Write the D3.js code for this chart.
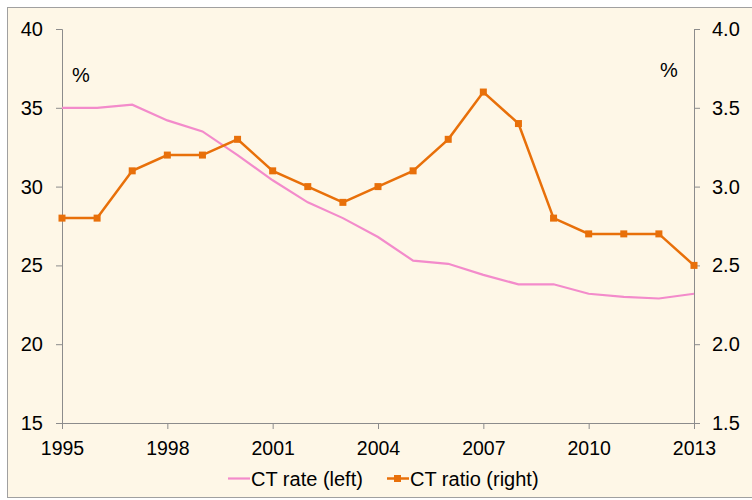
<!DOCTYPE html>
<html><head><meta charset="utf-8">
<script src="https://cdn.jsdelivr.net/npm/d3@7"></script>
<style>
html,body{margin:0;padding:0;background:#fff;}
svg{display:block;font-family:"Liberation Sans",Arial,sans-serif;}
</style></head>
<body>
<script>
const years = [1995,1996,1997,1998,1999,2000,2001,2002,2003,2004,2005,2006,2007,2008,2009,2010,2011,2012,2013];
const ctRate = [35,35,35.2,34.2,33.5,32,30.4,29,28,26.8,25.3,25.1,24.4,23.8,23.8,23.2,23.0,22.9,23.2];
const ctRatio = [2.8,2.8,3.1,3.2,3.2,3.3,3.1,3.0,2.9,3.0,3.1,3.3,3.6,3.4,2.8,2.7,2.7,2.7,2.5];
const xTicks = [1995,1998,2001,2004,2007,2010,2013];
const leftTicks = [15,20,25,30,35,40];
const rightTicks = [1.5,2.0,2.5,3.0,3.5,4.0];
const seriesNames = ["CT rate (left)","CT ratio (right)"];

const W=752,H=500;
const svg=d3.select("body").append("svg").attr("width",W).attr("height",H);
svg.append("rect").attr("x",7.5).attr("y",7.5).attr("width",W).attr("height",490).attr("fill","#FEF7E7").attr("stroke","#A0A0A0").attr("stroke-width",1);

const x=d3.scaleLinear().domain([1995,2013]).range([62,694]);
const yL=d3.scaleLinear().domain([15,40]).range([423,29]);
const yR=d3.scaleLinear().domain([1.5,4.0]).range([423,29]);
const axisColor="#8C8C8C";
const fs=20;

function style(size){
  return function(g){
    g.select(".domain").attr("stroke",axisColor);
    g.selectAll(".tick line").attr("stroke",axisColor);
    g.selectAll(".tick text").attr("fill","#000").style("font-size",size+"px").style("font-family","Liberation Sans, Arial, sans-serif");
  };
}
svg.append("g").attr("transform","translate(0,423)")
  .call(d3.axisBottom(x).tickValues(xTicks).tickFormat(d3.format("d")).tickSizeOuter(0).tickSize(6).tickPadding(12))
  .call(style(19.5));
svg.append("g").attr("transform","translate(62,0)")
  .call(d3.axisLeft(yL).tickValues(leftTicks).tickFormat(d3.format("d")).tickSizeOuter(0).tickSize(6).tickPadding(13))
  .call(style(fs));
svg.append("g").attr("transform","translate(694,0)")
  .call(d3.axisRight(yR).tickValues(rightTicks).tickFormat(d3.format(".1f")).tickSizeOuter(0).tickSize(6).tickPadding(12))
  .call(style(fs));

svg.append("text").attr("x",72).attr("y",82).text("%").style("font-size",fs+"px");
svg.append("text").attr("x",660).attr("y",77).text("%").style("font-size",fs+"px");

const pink="#F38BCB", orange="#E8700A";
const lineL=d3.line().x((d,i)=>x(years[i])).y(d=>yL(d));
const lineR=d3.line().x((d,i)=>x(years[i])).y(d=>yR(d));
svg.append("path").attr("d",lineL(ctRate)).attr("fill","none").attr("stroke",pink).attr("stroke-width",2.2);
svg.append("path").attr("d",lineR(ctRatio)).attr("fill","none").attr("stroke",orange).attr("stroke-width",2.5);
svg.selectAll(".mk").data(ctRatio).enter().append("rect")
  .attr("x",(d,i)=>x(years[i])-3.5).attr("y",d=>yR(d)-3.5).attr("width",7).attr("height",7).attr("fill",orange);

// legend
const lg=svg.append("g");
lg.append("line").attr("x1",228).attr("x2",250).attr("y1",478.5).attr("y2",478.5).attr("stroke",pink).attr("stroke-width",2.2);
lg.append("text").attr("x",251).attr("y",486).text(seriesNames[0]).style("font-size",fs+"px");
lg.append("line").attr("x1",387).attr("x2",409).attr("y1",478.5).attr("y2",478.5).attr("stroke",orange).attr("stroke-width",2.5);
lg.append("rect").attr("x",394).attr("y",475).attr("width",7).attr("height",7).attr("fill",orange);
lg.append("text").attr("x",410).attr("y",486).text(seriesNames[1]).style("font-size",fs+"px");
</script>
</body></html>
